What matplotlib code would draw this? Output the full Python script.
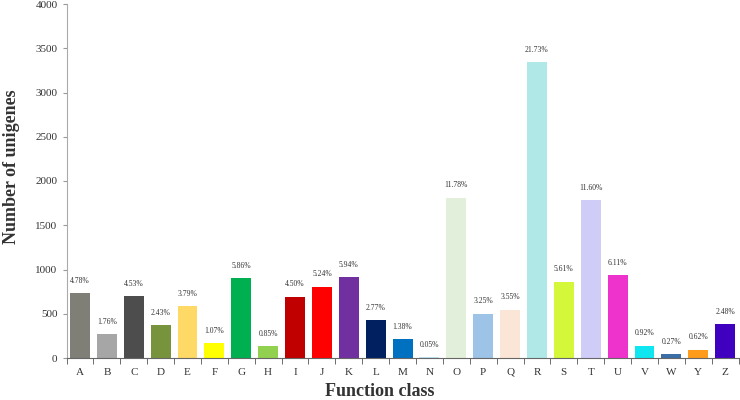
import matplotlib
matplotlib.use("Agg")
import matplotlib.pyplot as plt
import numpy as np

classes = ['A', 'B', 'C', 'D', 'E', 'F', 'G', 'H', 'I', 'J', 'K', 'L', 'M',
           'N', 'O', 'P', 'Q', 'R', 'S', 'T', 'U', 'V', 'W', 'Y', 'Z']
counts = [735, 271, 696, 374, 583, 164, 901, 131, 692, 805, 913, 426, 212,
          8, 1811, 500, 546, 3341, 862, 1783, 939, 141, 41, 95, 381]
percents = ['4.78%', '1.76%', '4.53%', '2.43%', '3.79%', '1.07%', '5.86%', '0.85%',
            '4.50%', '5.24%', '5.94%', '2.77%', '1.38%', '0.05%', '11.78%', '3.25%',
            '3.55%', '21.73%', '5.61%', '11.60%', '6.11%', '0.92%', '0.27%', '0.62%',
            '2.48%']
colors = ['#7f7f78', '#a6a6a6', '#4d4d4d', '#77933c', '#ffd966', '#ffff00', '#00b050',
          '#92d050', '#c00000', '#ff0000', '#7030a0', '#002060', '#0070c0', '#bfe3f2',
          '#e2efda', '#9dc3e6', '#fbe5d6', '#b0e8e8', '#d4f73a', '#d0ccf8', '#ee33cc',
          '#10e6f0', '#3a6ea5', '#ff9c1c', '#4000c0']

plt.rcParams['font.family'] = ['Liberation Serif', 'DejaVu Serif']

fig = plt.figure(figsize=(7.4, 4.0), dpi=100)
ax = fig.add_axes([0.09, 0.105, 0.908, 0.885])

x = np.arange(len(classes))
ax.bar(x, counts, width=0.74, color=colors)
for xi, c, p in zip(x, counts, percents):
    ax.annotate(p, (xi, c), xytext=(0, 6), textcoords='offset points',
                ha='center', va='bottom', fontsize=5.5, color='#333333')

ax.set_xlim(-0.5, len(classes) - 0.5)
ax.set_ylim(0, 4000)
ax.set_yticks(np.arange(0, 4001, 500))
ax.set_xticks(x)
ax.set_xticklabels(classes)
ax.set_xticks(np.arange(-0.5, len(classes), 1), minor=True)
ax.tick_params(axis='x', which='major', length=0, pad=7, labelsize=8, labelcolor='#333333')
ax.tick_params(axis='x', which='minor', length=4, color='#555555', direction='out')
ax.tick_params(axis='y', length=3, color='#999999', labelsize=8, labelcolor='#333333')

for s in ['top', 'right']:
    ax.spines[s].set_visible(False)
ax.spines['left'].set_color('#aaaaaa')
ax.spines['bottom'].set_color('#666666')

ax.set_xlabel('Function class', fontsize=13, fontweight='bold', color='#333333')
ax.set_ylabel('Number of unigenes', fontsize=13, fontweight='bold', color='#333333')
ax.xaxis.set_label_coords(0.466, -0.07)
ax.yaxis.set_label_coords(-0.07, 0.54)

fig.savefig('out.png', dpi=100)
